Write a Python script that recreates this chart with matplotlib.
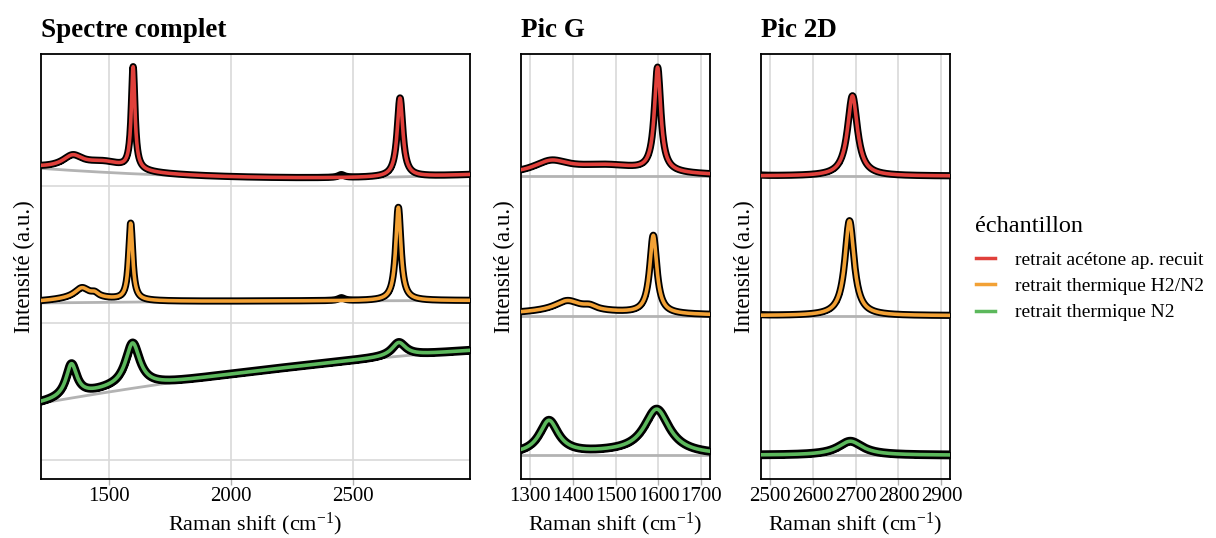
import numpy as np
import matplotlib
matplotlib.use("Agg")
import matplotlib.pyplot as plt
from matplotlib.lines import Line2D

plt.rcParams["font.family"] = ["Liberation Serif", "DejaVu Serif"]
plt.rcParams["mathtext.fontset"] = "custom"
plt.rcParams["mathtext.rm"] = "Liberation Serif"
plt.rcParams["mathtext.it"] = "Liberation Serif:italic"

# samples, stacked from top to bottom
samples = ["retrait acétone ap. recuit", "retrait thermique H2/N2", "retrait thermique N2"]
colors = ["#e0403b", "#f2a135", "#5cb85c"]
offsets = [2, 1, 0]

# fitted Lorentzian peaks per sample: (centre cm-1, height, half width)
peaks_red = [(1350, 0.085, 50), (1480, 0.07, 110), (1598, 0.745, 9), (2693, 0.575, 14)]
peaks_orange = [(1388, 0.07, 35), (1440, 0.025, 18), (1400, 0.035, 150),
                (1588, 0.56, 10), (2686, 0.68, 13)]
peaks_green = [(1345, 0.24, 27), (1500, 0.015, 100), (1596, 0.32, 36), (2688, 0.10, 35)]
peaks = [peaks_red, peaks_orange, peaks_green]

# small bands seen in the measured spectra but not in the fit
extra_red = [(2452, 0.02, 15)]
extra_orange = [(2452, 0.02, 15)]
extra_green = []
extras = [extra_red, extra_orange, extra_green]

# raw-spectrum baseline read at a few shifts (full-spectrum panel)
base_x = [1220, 1700, 2200, 2750, 2980]
base_red = [0.13, 0.068, 0.064, 0.07, 0.076]
base_orange = [0.145, 0.15, 0.158, 0.163, 0.16]
base_green = [0.415, 0.545, 0.665, 0.775, 0.79]
baselines = [base_red, base_orange, base_green]

panel_titles = ["Spectre complet", "Pic G", "Pic 2D"]
panel_xlim = [(1220, 2980), (1280, 1720), (2480, 2920)]
panel_ylim = [(-0.14, 2.96), (-0.17, 2.875), (-0.17, 2.875)]
panel_xticks = [[1500, 2000, 2500], [1300, 1400, 1500, 1600, 1700],
                [2500, 2600, 2700, 2800, 2900]]

shift = np.arange(1220, 2981, 1.0)


def lorentz(x, plist):
    y = np.zeros_like(x)
    for c, h, w in plist:
        y += h / (1 + ((x - c) / w) ** 2)
    return y


fig = plt.figure(figsize=(12.16, 5.38), dpi=100)
W, H = 1216, 538
boxes = [(41, 470), (521, 710), (761, 950)]
axes = []
for (l, r) in boxes:
    axes.append(fig.add_axes([l / W, 59 / H, (r - l) / W, 425 / H]))

for k, ax in enumerate(axes):
    lo, hi = panel_xlim[k]
    m = (shift >= lo - 5) & (shift <= hi + 5)
    x = shift[m]
    for i in range(3):
        fit = lorentz(x, peaks[i])
        meas = fit + lorentz(x, extras[i])
        if k == 0:
            coef = np.polyfit(base_x, baselines[i], 2)
            base = np.polyval(coef, x)
        else:
            base = np.zeros_like(x)
        off = offsets[i]
        ax.plot(x, off + base, color="#b3b3b3", lw=2, zorder=2)
        ms = 3.4 if i < 2 else 4.6
        ax.plot(x, off + base + meas, "o", color="black", ms=ms, mew=0, zorder=3)
        ax.plot(x, off + base + meas, color="black", lw=ms + 1.8, zorder=3)
        ax.plot(x, off + base + fit, color=colors[i], lw=2.6, zorder=4,
                solid_capstyle="round")
    ax.set_xlim(lo, hi)
    ax.set_ylim(*panel_ylim[k])
    ax.set_xticks(panel_xticks[k])
    if k == 0:
        ax.set_yticks([0, 1, 2])
    else:
        ax.set_yticks([])
    ax.tick_params(axis="y", length=0, labelleft=False)
    ax.tick_params(axis="x", length=4, width=1, color="#b0b0b0", labelsize=15, pad=2)
    ax.grid(True, color="#d9d9d9", lw=1.2, zorder=0)
    ax.set_axisbelow(True)
    for s in ax.spines.values():
        s.set_linewidth(1.3)
        s.set_color("black")
    ax.set_xlabel("Raman shift (cm$^{-1}$)", fontsize=16, labelpad=3)
    ax.set_ylabel("Intensité (a.u.)", fontsize=16.5, labelpad=4)
    ax.set_title(panel_titles[k], loc="left", fontsize=19.5, fontweight="bold", pad=12)

handles = [Line2D([0], [0], color=c, lw=2.5) for c in colors]
leg = fig.legend(handles, samples, title="échantillon", loc="upper left",
                 bbox_to_anchor=(958 / W, 1 - 199 / H), frameon=False,
                 fontsize=14, title_fontsize=17.5, handlelength=1.0,
                 handletextpad=1.05, labelspacing=0.44, alignment="left")
leg._legend_box.sep = 10

fig.savefig("out.png", dpi=100)
